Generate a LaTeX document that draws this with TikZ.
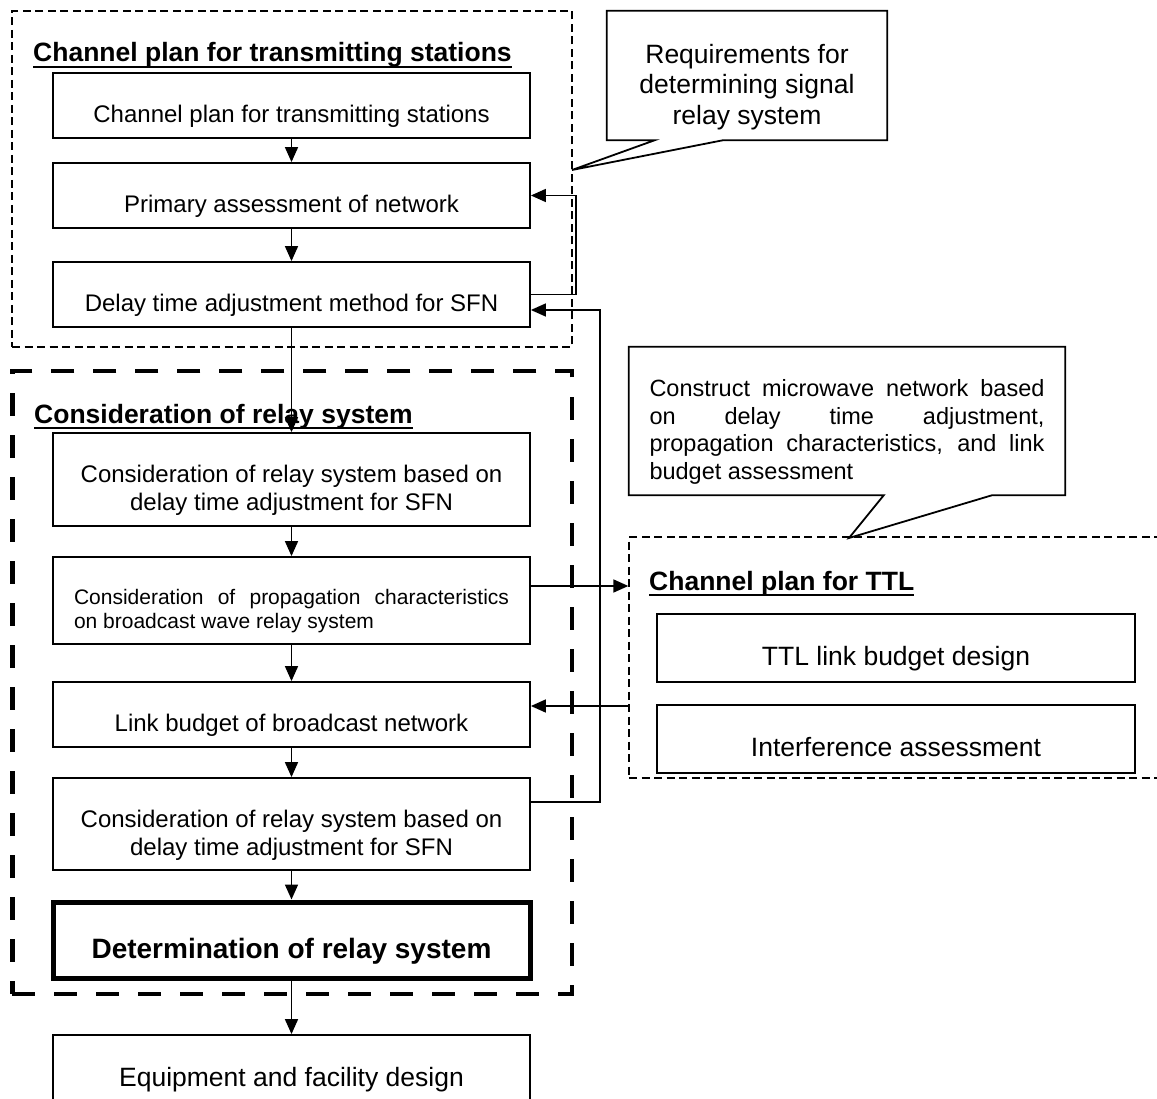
\documentclass[tikz,border=0pt]{standalone}
\usepackage{fontspec}
\setmainfont{Liberation Sans}
\usetikzlibrary{arrows.meta}
\newcommand{\bx}{\rule[-0.25em]{0pt}{\dimexpr1.22em+16pt\relax}}

\begin{document}
\begin{tikzpicture}[x=1pt, y=-1pt,
    box/.style={draw, line width=1.8pt, minimum width=477pt, inner sep=0pt, align=center, font=\fontsize{24}{28}\selectfont},
    bigbox/.style={box, font=\fontsize{26.5}{31}\selectfont},
    arr/.style={line width=1.6pt, -{Triangle[length=15pt,width=13pt]}},
    grp/.style={draw, line width=1.3pt, dash pattern=on 8pt off 4.5pt, inner sep=0pt},
    biggrp/.style={draw, line width=4.5pt, dash pattern=on 23pt off 19pt, inner sep=0pt},
    grptitle/.style={inner sep=0pt, anchor=base west, font=\bfseries\fontsize{26.5}{31}\selectfont},
    uline/.style={line width=2.2pt},
    note/.style={inner sep=0pt},
    noteline/.style={line width=1.8pt, line join=miter}]

    \useasboundingbox (0,0) rectangle (1157,1099);
    \clip (0,0) rectangle (1157,1099);

    % group frames
    \node[grp, minimum width=560pt, minimum height=336pt] (tx) at (292,179) {};
    \node[biggrp, minimum width=559.5pt, minimum height=623pt] (rs) at (292,682.5) {};
    \node[grp, minimum width=546pt, minimum height=241pt] (ttl) at (902,657.5) {};

    % group titles
    \node[grptitle] (txt) at (33,62) {Channel plan for transmitting stations};
    \draw[uline] ([yshift=-5pt]txt.base west) -- ([yshift=-5pt]txt.base east);
    \node[grptitle] (rst) at (34,423) {Consideration of relay system};
    \draw[uline] ([yshift=-5pt]rst.base west) -- ([yshift=-5pt]rst.base east);
    \node[grptitle] (ttlt) at (649,590) {Channel plan for TTL};
    \draw[uline] ([yshift=-5pt]ttlt.base west) -- ([yshift=-5pt]ttlt.base east);

    % transmitting stations
    \node[box, minimum height=65pt] (b1) at (291.5,105.5) {\bx Channel plan for transmitting stations};
    \node[box, minimum height=65pt] (b2) at (291.5,195.5) {\bx Primary assessment of network};
    \node[box, minimum height=65pt] (b3) at (291.5,294.5) {\bx Delay time adjustment method for SFN};

    % relay system
    \node[box, minimum height=93pt] (r1) at (291.5,479.5) {\bx Consideration of relay system based on\\delay time adjustment for SFN};
    \node[box, minimum height=87pt, align=left, font=\fontsize{21}{24}\selectfont] (r2) at (291.5,600.5)
        {\bx\makebox[435pt][s]{Consideration of propagation characteristics}\\on broadcast wave relay system};
    \node[box, minimum height=65pt] (r3) at (291.5,714.5) {\bx Link budget of broadcast network};
    \node[box, minimum height=92pt] (r4) at (291.5,824) {\bx Consideration of relay system based on\\delay time adjustment for SFN};
    \node[box, line width=5pt, minimum height=76pt, font=\bfseries\fontsize{28}{32}\selectfont] (r5) at (291.5,940) {\bx Determination of relay system};
    \node[bigbox, minimum height=68pt] (eq) at (291.5,1069) {\bx Equipment and facility design};

    % TTL
    \node[bigbox, minimum width=478pt, minimum height=68pt] (ttl1) at (896,648) {\bx TTL link budget design};
    \node[bigbox, minimum width=478pt, minimum height=68pt] (ttl2) at (896,739) {\bx Interference assessment};

    % callouts
    \node[note, minimum width=280pt, minimum height=129pt, align=center, font=\fontsize{26.5}{30.5}\selectfont] (req) at (747,75.5)
        {\bx Requirements for\\determining signal\\relay system};
    \coordinate (reqtip) at (572,170);
    \draw[noteline] ([xshift=48pt]req.south west) -- (req.south west) -- (req.north west) -- (req.north east)
        -- (req.south east) -- ([xshift=-164pt]req.south east) -- (reqtip) -- cycle;

    \node[note, minimum width=436pt, minimum height=148pt, align=left, font=\fontsize{23.5}{27.5}\selectfont] (mw) at (847,421)
        {\bx\makebox[395pt][s]{Construct microwave network based}\\\makebox[395pt][s]{on delay time adjustment,}\\\makebox[395pt][s]{propagation characteristics, and link}\\budget assessment};
    \coordinate (mwtip) at (849,538);
    \draw[noteline] ([xshift=255pt]mw.south west) -- (mw.south west) -- (mw.north west) -- (mw.north east)
        -- (mw.south east) -- ([xshift=-73pt]mw.south east) -- (mwtip) -- cycle;

    % main flow
    \draw[arr] (b1) -- (b2);
    \draw[arr] (b2) -- (b3);
    \draw[arr] (b3) -- (r1);
    \draw[arr] (r1) -- (r2);
    \draw[arr] (r2) -- (r3);
    \draw[arr] (r3) -- (r4);
    \draw[arr] (r4) -- (r5);
    \draw[arr] (r5) -- (eq);

    % feedback and TTL links
    \draw[arr] (b3.east) -- ++(45,0) |- (b2.east);
    \coordinate (fb) at ([yshift=22pt]r4.east);
    \coordinate (fbin) at ([yshift=-15.5pt]b3.east);
    \draw[arr] (fb) -- ++(69,0) |- (fbin);
    \coordinate (tto) at ([yshift=14.5pt]r2.east);
    \draw[arr] (tto) -- (tto -| ttl.west);
    \coordinate (tti) at ([yshift=8.5pt]r3.east);
    \draw[arr] (tti -| ttl.west) -- (tti);
\end{tikzpicture}
\end{document}
